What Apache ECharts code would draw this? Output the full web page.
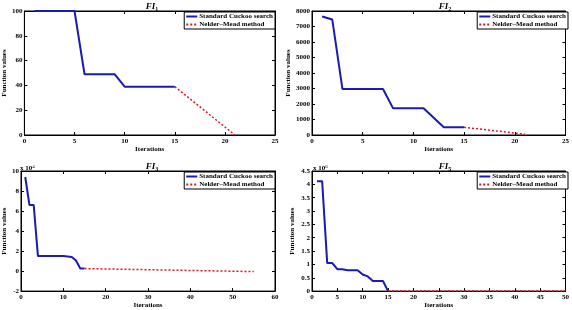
<!DOCTYPE html>
<html>
<head>
<meta charset="utf-8">
<script src="https://cdn.jsdelivr.net/npm/echarts@6/dist/echarts.min.js"></script>
<style>
  html, body { margin: 0; padding: 0; background: #fff; }
  #chart { width: 572px; height: 310px; }
</style>
</head>
<body>
<div id="chart"></div>
<script>
// iterations of the cuckoo search part
const csIters = [1, 2, 3, 4, 5, 6, 7, 8, 9, 10, 11, 12, 13, 14, 15]

// FI1
const f1Cs = [100, 100, 100, 100, 100, 49, 49, 49, 49, 39, 39, 39, 39, 39, 39]
const f1NmIters = [15, 21]
const f1Nm = [39, 0]

// FI2
const f2Cs = [7650, 7450, 2970, 2970, 2970, 2970, 2970, 1720, 1720, 1720, 1720, 1110, 500, 500, 500]
const f2NmIters = [15, 21]
const f2Nm = [500, 50]

// FI3 (raw values, axis shown in units of 10^4)
const f3Cs = [94000, 66000, 66000, 15000, 15000, 15000, 15000, 15000, 15000, 15000, 14500, 14000, 10500, 2500, 2500]
const f3NmIters = [15, 55]
const f3Nm = [2500, -500]

// FI5 (raw values, axis shown in units of 10^6)
const f5Cs = [4120000, 4120000, 1050000, 1050000, 820000, 820000, 780000, 780000, 780000, 620000, 550000, 380000, 380000, 380000, 0]
const f5NmIters = [15, 50]
const f5Nm = [0, 0]

const titles = ['1', '2', '3', '5']

const FONT = 'Liberation Serif'
const BLUE = '#1a1ab4'
const RED = '#e8101a'
const CS_NAME = 'Standard Cuckoo search'
const NM_NAME = 'Nelder\u2013Mead method'

const panels = [
  { left: 19, top: 11, xMax: 25, xInt: 5, yMin: 0, yMax: 100, yInt: 20, fmt: v => v, yGap: 14 },
  { left: 312, top: 11, xMax: 25, xInt: 5, yMin: 0, yMax: 8000, yInt: 1000, fmt: v => v, yGap: 19 },
  { left: 19, top: 171, xMax: 60, xInt: 10, yMin: -20000, yMax: 100000, yInt: 20000, fmt: v => v / 10000, yGap: 13 },
  { left: 312, top: 171, xMax: 50, xInt: 5, yMin: 0, yMax: 4500000, yInt: 500000, fmt: v => v / 1000000, yGap: 16 }
]
const W = 256
const H = 124

const pairs = (xs, ys) => xs.map((x, i) => [x, ys[i]])
const csData = [f1Cs, f2Cs, f3Cs, f5Cs]
const nmData = [pairs(f1NmIters, f1Nm), pairs(f2NmIters, f2Nm), pairs(f3NmIters, f3Nm), pairs(f5NmIters, f5Nm)]

const labelStyle = { fontFamily: FONT, fontWeight: 'bold', fontSize: 7, color: '#000' }

let grid = []
let xAxis = []
let yAxis = []
let series = []
let title = []
let legend = []

panels.forEach((p, i) => {
  grid.push({ left: p.left, top: p.top, width: W, height: H, show: true, borderColor: '#000', borderWidth: 1, backgroundColor: '#fff' })
  // bottom axis
  xAxis.push({
    type: 'value', gridIndex: i, min: 0, max: p.xMax, interval: p.xInt,
    name: 'Iterations', nameLocation: 'middle', nameGap: 10, nameTextStyle: labelStyle,
    axisLine: { onZero: false, lineStyle: { color: '#000', width: 1 } },
    axisTick: { inside: true, length: 3, lineStyle: { color: '#000' } },
    axisLabel: Object.assign({ margin: 3 }, labelStyle),
    splitLine: { show: false }
  })
  // top axis, ticks only
  xAxis.push({
    type: 'value', gridIndex: i, min: 0, max: p.xMax, interval: p.xInt, position: 'top',
    axisLine: { onZero: false, lineStyle: { color: '#000', width: 1 } },
    axisTick: { inside: true, length: 3, lineStyle: { color: '#000' } },
    axisLabel: { show: false }, splitLine: { show: false }
  })
  yAxis.push({
    type: 'value', gridIndex: i, min: p.yMin, max: p.yMax, interval: p.yInt,
    name: 'Function values', nameLocation: 'middle', nameGap: p.yGap, nameRotate: 90, nameTextStyle: labelStyle,
    axisLine: { show: true, onZero: false, lineStyle: { color: '#000', width: 1 } },
    axisTick: { show: true, inside: true, length: 3, lineStyle: { color: '#000' } },
    axisLabel: Object.assign({ margin: 2, formatter: p.fmt }, labelStyle),
    splitLine: { show: false }
  })
  yAxis.push({
    type: 'value', gridIndex: i, min: p.yMin, max: p.yMax, interval: p.yInt, position: 'right',
    axisLine: { show: true, onZero: false, lineStyle: { color: '#000', width: 1 } },
    axisTick: { show: true, inside: true, length: 3, lineStyle: { color: '#000' } },
    axisLabel: { show: false }, splitLine: { show: false }
  })
  series.push({
    name: CS_NAME, type: 'line', xAxisIndex: 2 * i, yAxisIndex: 2 * i,
    data: pairs(csIters, csData[i]), symbol: 'none', animation: false,
    lineStyle: { color: BLUE, width: 2 }, itemStyle: { color: BLUE }
  })
  series.push({
    name: NM_NAME, type: 'line', xAxisIndex: 2 * i, yAxisIndex: 2 * i,
    data: nmData[i], symbol: 'none', animation: false,
    lineStyle: { color: RED, width: 1.5, type: [2, 2] }, itemStyle: { color: RED }
  })
  title.push({
    text: '{i|FI}{s|' + titles[i] + '}',
    left: p.left + W / 2, top: p.top - 14, textAlign: 'center',
    textStyle: {
      rich: {
        i: { fontFamily: FONT, fontStyle: 'italic', fontSize: 9, color: '#000' },
        s: { fontFamily: FONT, fontSize: 6, color: '#000', padding: [4, 0, 0, 0] }
      }
    }
  })
  legend.push({
    orient: 'vertical',
    right: 572 - (p.left + W), top: p.top + 1,
    data: [CS_NAME, NM_NAME],
    backgroundColor: '#fff', borderColor: '#000', borderWidth: 1,
    padding: [1, 2, 1, 1], itemGap: 1, itemWidth: 11, itemHeight: 6,
    itemStyle: { opacity: 0 },
    textStyle: Object.assign({}, labelStyle, { padding: [0, 0, 0, -3] }),
    selectedMode: false
  })
})

const chart = echarts.init(document.getElementById('chart'))
chart.setOption({
  animation: false,
  title: title,
  grid: grid,
  xAxis: xAxis,
  yAxis: yAxis,
  legend: legend,
  series: series,
  graphic: [
    { type: 'text', left: 20, top: 164, style: { text: '{a|x 10}{b|4}', rich: { a: { fontFamily: FONT, fontSize: 7, fontWeight: 'bold', fill: '#000' }, b: { fontFamily: FONT, fontSize: 5, fill: '#000', padding: [0, 0, 4, 0] } } } },
    { type: 'text', left: 313, top: 164, style: { text: '{a|x 10}{b|6}', rich: { a: { fontFamily: FONT, fontSize: 7, fontWeight: 'bold', fill: '#000' }, b: { fontFamily: FONT, fontSize: 5, fill: '#000', padding: [0, 0, 4, 0] } } } }
  ]
})
</script>
</body>
</html>
